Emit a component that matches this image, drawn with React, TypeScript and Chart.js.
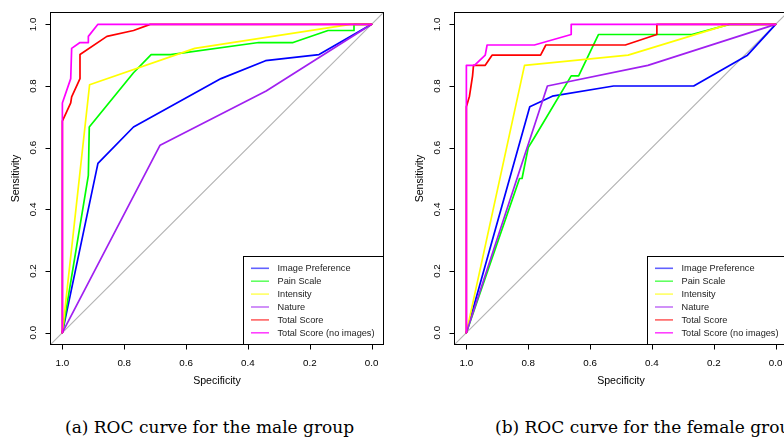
import React, { useEffect, useRef } from "react";
import { Chart, registerables } from "chart.js";

Chart.register(...registerables);

// ---- shared ----
const seriesNames = [
  "Image Preference",
  "Pain Scale",
  "Intensity",
  "Nature",
  "Total Score",
  "Total Score (no images)",
];
const seriesColors = ["#0000FF", "#00FF00", "#FFFF00", "#A020F0", "#FF0000", "#FF00FF"];
const tickValues = [0, 0.2, 0.4, 0.6, 0.8, 1.0];
const tickLabels = ["0.0", "0.2", "0.4", "0.6", "0.8", "1.0"];
const xTitle = "Specificity";
const yTitle = "Sensitivity";
const captions = ["(a) ROC curve for the male group", "(b) ROC curve for the female group"];

// ---- male group (a) ----
const maleImageSpec = [1, 0.885, 0.77, 0.487, 0.343, 0.17, 0];
const maleImageSens = [0, 0.549, 0.667, 0.824, 0.882, 0.902, 1];
const malePainSpec = [1, 0.916, 0.913, 0.77, 0.713, 0.65, 0.365, 0.254, 0.141, 0.057, 0.057, 0];
const malePainSens = [0, 0.51, 0.667, 0.843, 0.902, 0.902, 0.941, 0.941, 0.98, 0.98, 1, 1];
const maleIntensitySpec = [1, 0.912, 0.572, 0.068, 0];
const maleIntensitySens = [0, 0.804, 0.922, 1, 1];
const maleNatureSpec = [1, 0.684, 0.341, 0];
const maleNatureSens = [0, 0.608, 0.784, 1];
const maleTotalSpec = [1, 1, 0.973, 0.97, 0.943, 0.943, 0.856, 0.77, 0.716, 0];
const maleTotalSens = [0, 0.686, 0.745, 0.765, 0.824, 0.902, 0.961, 0.98, 1, 1];
const maleNoImgSpec = [1, 1, 0.973, 0.97, 0.943, 0.916, 0.916, 0.885, 0];
const maleNoImgSens = [0, 0.745, 0.824, 0.922, 0.941, 0.941, 0.961, 1, 1];

// ---- female group (b) ----
const femaleImageSpec = [1, 0.795, 0.722, 0.524, 0.265, 0.091, 0];
const femaleImageSens = [0, 0.733, 0.767, 0.8, 0.8, 0.9, 1];
const femalePainSpec = [1, 0.828, 0.82, 0.8, 0.78, 0.661, 0.637, 0.573, 0.271, 0.149, 0];
const femalePainSens = [0, 0.5, 0.5, 0.6, 0.633, 0.833, 0.833, 0.967, 0.967, 1, 1];
const femaleIntensitySpec = [1, 0.812, 0.477, 0.152, 0];
const femaleIntensitySens = [0, 0.867, 0.9, 1, 1];
const femaleNatureSpec = [1, 0.738, 0.413, 0];
const femaleNatureSens = [0, 0.8, 0.867, 1];
const femaleTotalSpec = [1, 1, 0.99, 0.985, 0.98, 0.977, 0.939, 0.917, 0.76, 0.743, 0.486, 0.384, 0.384, 0];
const femaleTotalSens = [0, 0.733, 0.767, 0.8, 0.833, 0.867, 0.867, 0.9, 0.9, 0.933, 0.933, 0.967, 1, 1];
const femaleNoImgSpec = [1, 1, 0.974, 0.939, 0.933, 0.78, 0.661, 0.661, 0];
const femaleNoImgSens = [0, 0.867, 0.867, 0.9, 0.933, 0.933, 0.967, 1, 1];

const maleSpecs = [maleImageSpec, malePainSpec, maleIntensitySpec, maleNatureSpec, maleTotalSpec, maleNoImgSpec];
const maleSenss = [maleImageSens, malePainSens, maleIntensitySens, maleNatureSens, maleTotalSens, maleNoImgSens];
const femaleSpecs = [femaleImageSpec, femalePainSpec, femaleIntensitySpec, femaleNatureSpec, femaleTotalSpec, femaleNoImgSpec];
const femaleSenss = [femaleImageSens, femalePainSens, femaleIntensitySens, femaleNatureSens, femaleTotalSens, femaleNoImgSens];

const legendColors = [
  "rgba(0,0,255,0.62)",
  "rgba(0,255,0,0.62)",
  "rgba(255,255,0,0.62)",
  "rgba(160,32,240,0.62)",
  "rgba(255,0,0,0.62)",
  "rgba(255,0,255,0.75)",
];

const SANS = '"Liberation Sans", Arial, Helvetica, sans-serif';

const rPlotPlugin = {
  id: "rPlot",
  beforeDraw(chart: any) {
    const ctx = chart.ctx;
    ctx.save();
    ctx.fillStyle = "#FFFFFF";
    ctx.fillRect(0, 0, chart.width, chart.height);
    ctx.restore();
  },
  afterDatasetsDraw(chart: any) {
    const ctx = chart.ctx;
    const { left, right, top, bottom } = chart.chartArea;
    const xs = chart.scales.x;
    const ys = chart.scales.y;
    ctx.save();
    ctx.strokeStyle = "#000000";
    ctx.lineWidth = 1;
    // box
    const l = Math.round(left) + 0.5;
    const r = Math.round(right) - 0.5;
    const t = Math.round(top) + 0.5;
    const b = Math.round(bottom) - 0.5;
    ctx.strokeRect(l, t, r - l, b - t);
    // ticks
    ctx.beginPath();
    tickValues.forEach((v) => {
      const px = Math.round(xs.getPixelForValue(v)) + 0.5;
      ctx.moveTo(px, b);
      ctx.lineTo(px, b + 5);
      const py = Math.round(ys.getPixelForValue(v)) + 0.5;
      ctx.moveTo(l, py);
      ctx.lineTo(l - 5, py);
    });
    ctx.stroke();
    // tick labels
    ctx.fillStyle = "#000000";
    ctx.font = `9.8px ${SANS}`;
    ctx.textAlign = "center";
    ctx.textBaseline = "middle";
    tickValues.forEach((v, i) => {
      ctx.fillText(tickLabels[i], xs.getPixelForValue(v), bottom + 18.5);
      ctx.save();
      ctx.translate(left - 17, ys.getPixelForValue(v));
      ctx.rotate(-Math.PI / 2);
      ctx.fillText(tickLabels[i], 0, 0);
      ctx.restore();
    });
    // axis titles
    ctx.font = `10.6px ${SANS}`;
    ctx.fillText(xTitle, (left + right) / 2, bottom + 36.5);
    ctx.save();
    ctx.translate(left - 34, (top + bottom) / 2);
    ctx.rotate(-Math.PI / 2);
    ctx.fillText(yTitle, 0, 0);
    ctx.restore();
    // legend
    const lx = Math.round(right - 141) + 0.5;
    const ly = 256.5;
    ctx.fillStyle = "#FFFFFF";
    ctx.fillRect(lx, ly, r - lx, b - ly);
    ctx.strokeStyle = "#000000";
    ctx.lineWidth = 1;
    ctx.strokeRect(lx, ly, r - lx, b - ly);
    ctx.font = `9.2px ${SANS}`;
    ctx.textAlign = "left";
    ctx.textBaseline = "middle";
    seriesNames.forEach((name, i) => {
      const yy = 268.3 + i * 12.9;
      ctx.strokeStyle = legendColors[i];
      ctx.lineWidth = 1.6;
      ctx.beginPath();
      ctx.moveTo(right - 133, yy);
      ctx.lineTo(right - 115, yy);
      ctx.stroke();
      ctx.fillStyle = "#222222";
      ctx.fillText(name, right - 106.5, yy + 0.5);
    });
    ctx.restore();
  },
};

function RocChart({ specs, senss, left }: { specs: number[][]; senss: number[][]; left: number }) {
  const ref = useRef<HTMLCanvasElement>(null);
  useEffect(() => {
    if (!ref.current) return;
    const datasets: any[] = [
      {
        label: "reference",
        data: [
          { x: 1.04, y: -0.04 },
          { x: -0.04, y: 1.04 },
        ],
        borderColor: "#B4B4B4",
        borderWidth: 1.2,
        order: 100,
      },
      ...seriesNames.map((name, i) => ({
        label: name,
        data: specs[i].map((s, j) => ({ x: s, y: senss[i][j] })),
        borderColor: seriesColors[i],
        borderWidth: 1.7,
        order: 10 - i,
      })),
    ];
    const chart = new Chart(ref.current, {
      type: "line",
      data: { datasets },
      options: {
        animation: false,
        responsive: false,
        events: [],
        layout: { padding: { top: 12, right: 16, left: 0, bottom: 0 } },
        plugins: { legend: { display: false }, tooltip: { enabled: false } },
        elements: {
          point: { radius: 0 },
          line: { tension: 0, borderJoinStyle: "round", borderCapStyle: "round" },
        },
        scales: {
          x: {
            type: "linear",
            min: -0.04,
            max: 1.04,
            reverse: true,
            ticks: { display: false },
            grid: { display: false },
            border: { display: false },
            afterFit: (s: any) => {
              s.height = 55;
            },
          },
          y: {
            type: "linear",
            min: -0.04,
            max: 1.04,
            ticks: { display: false },
            grid: { display: false },
            border: { display: false },
            afterFit: (s: any) => {
              s.width = 50;
            },
          },
        },
      } as any,
      plugins: [rPlotPlugin],
    });
    return () => chart.destroy();
  }, []);
  return (
    <canvas
      ref={ref}
      width={400}
      height={400}
      style={{ position: "absolute", left, top: 0, width: 400, height: 400 }}
    />
  );
}

const captionStyle: React.CSSProperties = {
  position: "absolute",
  top: 417,
  fontFamily: '"DejaVu Serif", "Liberation Serif", serif',
  fontSize: 17,
  lineHeight: "20px",
  whiteSpace: "nowrap",
  color: "#000",
};

export default function App() {
  return (
    <div
      style={{
        position: "fixed",
        left: 0,
        top: 0,
        width: 784,
        height: 439,
        overflow: "hidden",
        background: "#FFFFFF",
      }}
    >
      <RocChart specs={maleSpecs} senss={maleSenss} left={0} />
      <RocChart specs={femaleSpecs} senss={femaleSenss} left={404} />
      <div style={{ ...captionStyle, left: 65 }}>{captions[0]}</div>
      <div style={{ ...captionStyle, left: 495 }}>{captions[1]}</div>
    </div>
  );
}
